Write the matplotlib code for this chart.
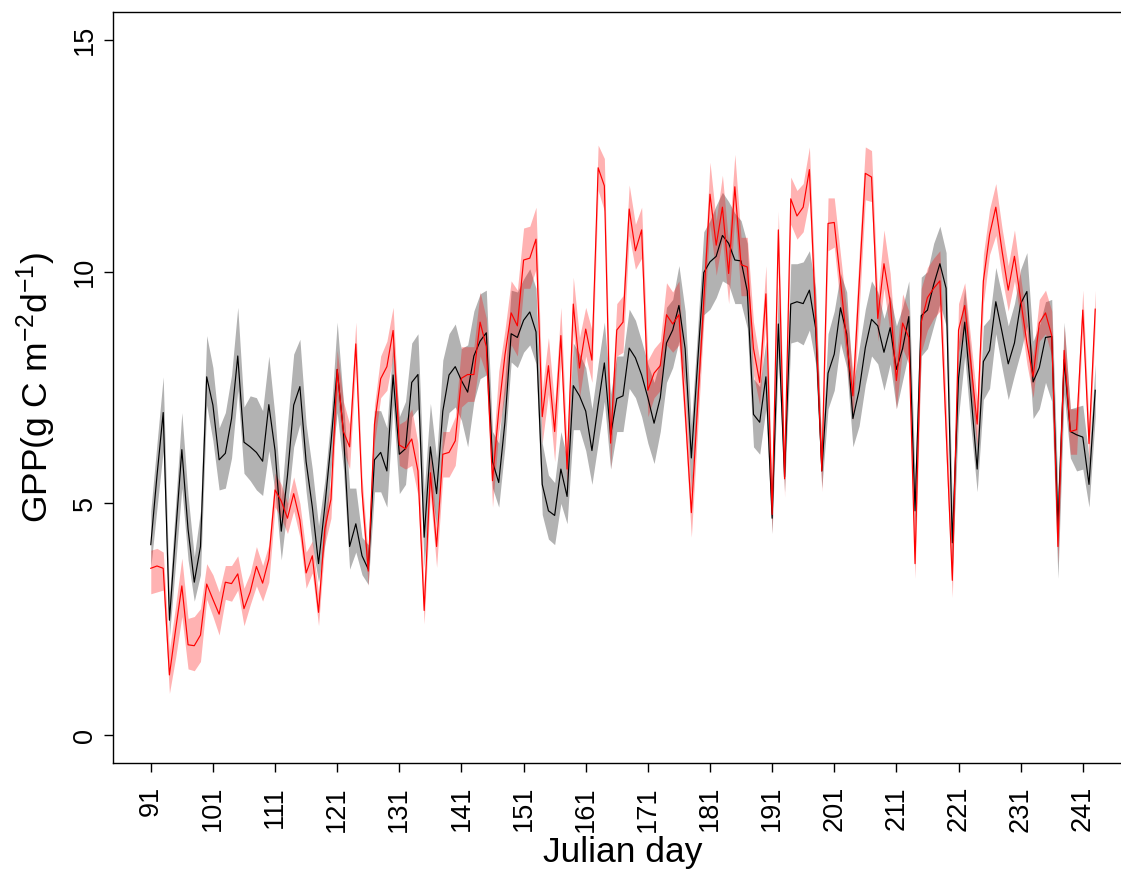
import numpy as np
import matplotlib
matplotlib.use('Agg')
import matplotlib.pyplot as plt

plt.rcParams['font.family'] = ['Liberation Sans', 'DejaVu Sans']
plt.rcParams['mathtext.fontset'] = 'custom'
plt.rcParams['mathtext.rm'] = 'Liberation Sans'
plt.rcParams['mathtext.it'] = 'Liberation Sans'
plt.rcParams['mathtext.bf'] = 'Liberation Sans:bold'

# Julian days 91..243
days = np.arange(91, 244)

# black series: mean, lower, upper
black_mean = [4.11, 5.6, 6.96, 2.48, 4.35, 6.16, 4.44, 3.3, 4.07, 7.73,
              7.12, 5.94, 6.08, 6.83, 8.18, 6.32, 6.22, 6.10, 5.91, 7.13,
              6.14, 4.40, 5.6, 7.12, 7.52, 5.9, 4.92, 3.70, 4.92, 6.30,
              7.89, 6.55, 4.07, 4.56, 3.87, 3.58, 5.94, 6.10, 5.70, 7.77,
              6.06, 6.18, 7.61, 7.78, 4.27, 6.22, 5.21, 6.99, 7.77, 7.95,
              7.65, 7.40, 8.18, 8.50, 8.68, 5.90, 5.45, 6.75, 8.66, 8.58,
              8.95, 9.13, 8.70, 5.41, 4.84, 4.74, 5.74, 5.15, 7.54, 7.32,
              6.99, 6.14, 7.12, 8.03, 6.47, 7.26, 7.32, 8.35, 8.14, 7.77,
              7.28, 6.73, 7.28, 8.46, 8.74, 9.27, 8.34, 5.98, 8.01, 9.98,
              10.21, 10.33, 10.78, 10.61, 10.25, 10.23, 9.58, 6.92, 6.75, 7.73,
              4.68, 8.87, 5.57, 9.30, 9.35, 9.31, 9.60, 8.78, 5.70, 7.81,
              8.22, 9.22, 8.66, 6.83, 7.44, 8.36, 8.97, 8.83, 8.26, 8.79,
              7.89, 8.34, 9.03, 4.84, 9.05, 9.17, 9.72, 10.17, 9.64, 4.15,
              7.7, 8.91, 7.36, 5.74, 8.06, 8.30, 9.35, 8.70, 8.01, 8.46,
              9.31, 9.57, 7.62, 7.93, 8.58, 8.60, 4.5, 8.1, 6.55, 6.48,
              6.43, 5.41, 7.44]

black_upper = [4.84, 6.3, 7.73, 2.97, 5.0, 6.96, 5.17, 3.85, 4.84, 8.62,
               7.93, 6.63, 6.96, 7.77, 9.23, 7.08, 7.32, 7.28, 7.0, 8.18,
               6.87, 5.09, 6.71, 8.22, 8.54, 6.71, 5.74, 4.52, 5.49, 6.87,
               8.91, 7.20, 5.33, 5.33, 4.27, 4.11, 7.0, 7.0, 6.63, 8.50,
               6.87, 7.20, 8.46, 8.66, 5.25, 7.16, 5.98, 8.09, 8.66, 8.87,
               8.34, 8.42, 9.15, 9.52, 9.60, 6.55, 6.30, 7.69, 9.60, 9.56,
               9.84, 10.06, 9.64, 6.30, 5.61, 5.45, 6.55, 5.98, 8.46, 8.22,
               7.93, 7.04, 8.01, 8.91, 7.36, 8.18, 8.18, 9.19, 8.95, 8.50,
               8.01, 7.61, 8.09, 9.23, 9.40, 10.13, 9.15, 6.71, 8.74, 10.86,
               11.10, 11.43, 11.71, 11.51, 11.26, 11.10, 10.61, 7.69, 7.52, 8.50,
               5.25, 9.68, 6.06, 10.17, 10.17, 10.21, 10.45, 9.64, 6.14, 8.66,
               9.15, 9.96, 9.56, 7.52, 8.34, 9.19, 9.80, 9.56, 8.99, 9.48,
               8.83, 9.23, 9.80, 5.57, 9.88, 10.0, 10.61, 10.98, 10.41, 4.92,
               8.50, 9.64, 8.18, 6.30, 8.83, 8.99, 10.09, 9.48, 8.83, 9.31,
               10.05, 10.41, 8.50, 8.83, 9.35, 9.40, 5.25, 8.91, 7.04, 7.08,
               7.12, 5.98, 8.01]

black_lower = [3.62, 4.9, 6.14, 2.12, 3.7, 5.33, 3.78, 2.89, 3.46, 7.12,
               6.35, 5.29, 5.33, 5.98, 7.44, 5.65, 5.49, 5.29, 5.17, 6.14,
               5.25, 3.78, 4.92, 6.22, 6.71, 5.25, 4.11, 3.30, 4.11, 5.74,
               6.96, 5.74, 3.58, 3.95, 3.46, 3.25, 5.25, 5.25, 4.92, 7.12,
               5.21, 5.41, 6.87, 7.04, 3.62, 5.41, 4.52, 6.14, 6.96, 7.08,
               6.79, 6.22, 7.20, 7.69, 7.77, 5.33, 4.92, 6.22, 8.05, 7.93,
               8.26, 8.42, 8.01, 4.76, 4.23, 4.11, 5.0, 4.56, 6.59, 6.59,
               6.14, 5.41, 6.30, 7.20, 5.74, 6.55, 6.55, 7.48, 7.28, 6.87,
               6.30, 5.86, 6.55, 7.61, 7.93, 8.50, 7.52, 5.25, 7.20, 9.07,
               9.19, 9.44, 9.80, 9.72, 9.31, 9.31, 8.78, 6.22, 6.06, 7.04,
               4.35, 8.18, 5.25, 8.46, 8.50, 8.42, 8.74, 8.01, 5.33, 7.04,
               7.44, 8.46, 7.93, 6.22, 6.67, 7.56, 8.18, 8.01, 7.44, 8.01,
               7.04, 7.65, 8.26, 4.43, 8.18, 8.34, 8.83, 9.31, 8.83, 3.54,
               6.87, 8.18, 6.63, 5.25, 7.24, 7.48, 8.66, 7.93, 7.24, 7.77,
               8.26, 8.83, 6.83, 7.04, 7.61, 7.20, 3.38, 7.36, 5.98, 5.70,
               5.74, 4.92, 6.87]

# red series: mean, lower, upper
red_mean = [3.6, 3.65, 3.6, 1.30, 2.28, 3.22, 1.95, 1.93, 2.16, 3.26,
            2.93, 2.61, 3.30, 3.27, 3.48, 2.73, 3.09, 3.64, 3.28, 3.8,
            5.29, 5.05, 4.68, 5.21, 4.64, 3.50, 3.87, 2.65, 4.44, 5.09,
            7.89, 6.55, 6.22, 8.44, 5.25, 3.54, 6.71, 7.69, 7.95, 8.73,
            6.26, 6.18, 6.39, 5.70, 2.69, 5.66, 4.07, 6.06, 6.10, 6.35,
            7.70, 7.78, 7.78, 8.91, 8.38, 5.49, 7.0, 8.2, 9.11, 8.83,
            10.25, 10.29, 10.70, 6.87, 7.97, 6.55, 8.62, 5.74, 9.30, 7.92,
            8.76, 8.09, 12.24, 11.85, 6.30, 8.74, 8.91, 11.35, 10.45, 10.9,
            7.44, 7.81, 7.97, 9.07, 8.87, 9.07, 7.0, 4.80, 7.08, 9.4,
            11.67, 10.57, 11.39, 9.96, 11.83, 10.15, 10.1, 8.34, 7.61, 9.52,
            4.76, 10.9, 5.53, 11.57, 11.2, 11.39, 12.2, 9.0, 5.70, 11.04,
            11.06, 9.8, 8.5, 7.32, 9.72, 12.12, 12.04, 8.99, 10.17, 9.35,
            7.65, 8.89, 8.58, 3.70, 8.91, 9.44, 9.64, 9.80, 6.6, 3.34,
            8.74, 9.27, 8.01, 6.71, 9.80, 10.8, 11.39, 10.45, 9.6, 10.33,
            9.4, 8.46, 7.73, 8.89, 9.11, 8.62, 4.07, 8.3, 6.55, 6.59,
            9.17, 6.29, 9.19]

red_upper = [3.99, 4.03, 3.95, 1.83, 2.8, 3.82, 2.52, 2.56, 2.73, 3.70,
             3.46, 3.09, 3.66, 3.66, 3.87, 3.17, 3.50, 4.07, 3.66, 4.11,
             5.65, 5.41, 5.0, 5.57, 5.0, 3.95, 4.19, 3.05, 4.76, 5.49,
             8.30, 7.20, 6.71, 8.91, 5.57, 3.87, 7.12, 8.18, 8.50, 9.23,
             6.71, 6.79, 7.04, 6.30, 3.13, 6.14, 4.43, 6.55, 6.55, 6.87,
             8.38, 8.38, 8.38, 9.56, 8.99, 5.98, 7.85, 8.74, 9.80, 9.60,
             10.94, 10.98, 11.39, 7.44, 8.58, 7.12, 9.23, 6.22, 9.88, 8.58,
             9.23, 8.74, 12.73, 12.44, 6.79, 9.31, 9.48, 11.87, 11.02, 11.39,
             8.09, 8.34, 8.50, 9.76, 9.56, 9.80, 7.52, 5.33, 7.61, 9.88,
             12.36, 11.10, 12.08, 10.61, 12.53, 10.74, 10.74, 8.91, 8.09, 10.13,
             5.25, 11.31, 5.98, 12.04, 11.75, 11.90, 12.69, 9.48, 6.06, 11.59,
             11.59, 10.37, 9.15, 7.85, 10.37, 12.69, 12.61, 9.48, 10.90, 9.96,
             8.18, 9.52, 9.15, 4.27, 9.64, 10.09, 10.29, 10.45, 7.20, 3.87,
             9.31, 9.76, 8.50, 7.20, 10.37, 11.35, 11.90, 10.94, 10.13, 10.90,
             9.88, 8.91, 8.18, 9.40, 9.60, 9.15, 4.52, 8.83, 7.04, 7.04,
             9.60, 6.71, 9.60]

red_lower = [3.05, 3.09, 3.13, 0.90, 1.67, 2.56, 1.43, 1.39, 1.59, 2.93,
             2.56, 2.16, 2.93, 2.89, 3.13, 2.36, 2.81, 3.22, 2.89, 3.3,
             4.92, 4.68, 4.35, 4.84, 4.27, 3.17, 3.50, 2.36, 4.11, 4.68,
             7.36, 6.14, 5.74, 8.01, 4.84, 3.22, 6.30, 7.28, 7.44, 8.18,
             5.82, 5.74, 5.82, 5.17, 2.40, 5.17, 3.62, 5.57, 5.57, 5.82,
             7.08, 7.20, 7.20, 8.18, 7.77, 4.92, 6.55, 7.36, 8.42, 8.18,
             9.64, 9.64, 10.05, 6.30, 7.36, 5.90, 8.09, 5.33, 8.74, 7.28,
             8.18, 7.61, 11.75, 11.31, 5.74, 8.18, 8.26, 10.78, 10.05, 10.29,
             6.87, 7.28, 7.44, 8.42, 8.26, 8.42, 6.55, 4.27, 6.55, 8.91,
             11.02, 9.92, 10.70, 9.31, 11.18, 9.48, 9.48, 7.77, 7.12, 8.99,
             4.35, 10.37, 5.13, 11.02, 10.70, 10.86, 11.55, 8.34, 5.25, 10.45,
             10.53, 9.23, 8.01, 6.79, 9.15, 11.55, 11.51, 8.50, 9.64, 8.66,
             7.04, 8.34, 8.01, 3.38, 8.26, 8.74, 8.99, 9.15, 5.98, 2.97,
             8.26, 8.83, 7.44, 6.22, 9.31, 10.37, 10.78, 9.88, 9.15, 9.80,
             8.99, 8.01, 7.28, 8.50, 8.66, 8.18, 3.70, 7.85, 6.06, 6.06,
             8.83, 5.90, 8.83]

xticks = [91, 101, 111, 121, 131, 141, 151, 161, 171, 181, 191, 201, 211, 221, 231, 241]
yticks = [0, 5, 10, 15]

fig = plt.figure(figsize=(11.21, 8.71), dpi=100, facecolor='white')
ax = fig.add_axes([113 / 1121, 1 - 763 / 871, 1020 / 1121, 751 / 871])

# bands and lines (red band sits on top of the black line)
ax.fill_between(days, black_lower, black_upper, color='black', alpha=0.3, lw=0)
ax.plot(days, black_mean, color='black', lw=0.85)
ax.fill_between(days, red_lower, red_upper, color='red', alpha=0.3, lw=0)
ax.plot(days, red_mean, color='red', lw=0.85)

ax.set_xlim(84.92, 249.08)
ax.set_ylim(-0.6, 15.6)

ax.set_xticks(xticks)
ax.set_xticklabels([str(t) for t in xticks], rotation=90, fontsize=19.5)
ax.set_yticks(yticks)
ax.set_yticklabels([str(t) for t in yticks], rotation=90, va='center', fontsize=19.5)
ax.tick_params(axis='x', length=6.5, width=1, pad=10, color='black')
ax.tick_params(axis='y', length=6.5, width=1, pad=4.3, color='black')

for sp in ax.spines.values():
    sp.set_linewidth(1)

fig.text(623 / 1121, 1 - 862 / 871, 'Julian day', ha='center', va='baseline', fontsize=25.5)
fig.text(36 / 1121, 1 - 387.5 / 871, r'GPP(g C m$^{-2}$d$^{-1}$)', ha='center', va='center',
         rotation=90, fontsize=25.5)

plt.savefig('out.png', dpi=100, facecolor='white')
